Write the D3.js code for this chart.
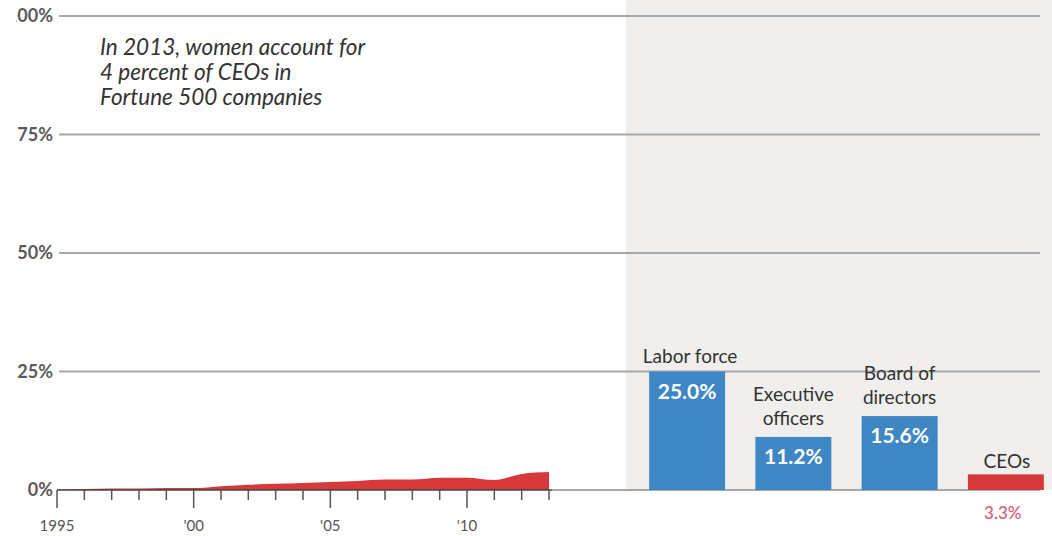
<!DOCTYPE html>
<html><head><meta charset="utf-8">
<script src="https://cdn.jsdelivr.net/npm/d3@7"></script>
<style>
html,body{margin:0;padding:0;background:#fff;}
svg{display:block;font-family:Lato,"Open Sans",sans-serif;}
</style></head>
<body>
<svg id="c" width="1052" height="536"></svg>
<script>
// ---- data ----
const years = [1995,1996,1997,1998,1999,2000,2001,2002,2003,2004,2005,2006,2007,2008,2009,2010,2011,2012,2013];
const ceoShare = [0.1,0.2,0.3,0.3,0.4,0.4,0.8,1.1,1.3,1.5,1.7,1.9,2.2,2.2,2.6,2.6,2.1,3.4,3.8];
const categories = ["Labor force","Executive officers","Board of directors","CEOs"];
const categoryLines = [["Labor force"],["Executive","officers"],["Board of","directors"],["CEOs"]];
const categoryValues = [25.0,11.2,15.6,3.3];
const yTicks = [0,25,50,75,100];
const yTickLabels = ["0%","25%","50%","75%","100%"];
const xMajorYears = [1995,2000,2005,2010];
const xMajorLabels = ["1995","'00","'05","'10"];
const note = ["In 2013, women account for","4 percent of CEOs in","Fortune 500 companies"];

const svg = d3.select("#c");
const y = d3.scaleLinear().domain([0,100]).range([490,16]);
const x = d3.scaleLinear().domain([1995,2013]).range([57,549]);
const xb = d3.scaleBand().domain(categories).range([634,1059]).paddingInner(0.285).paddingOuter(0.1425);

// crop of the left edge (the original image is cropped there)
svg.append("defs").append("clipPath").attr("id","crop")
  .append("rect").attr("x",16).attr("y",0).attr("width",1052).attr("height",536);

// gray panel
svg.append("rect").attr("x",626).attr("y",0).attr("width",1052-626).attr("height",y(0)).attr("fill","#f0efed");

// gridlines
svg.append("g").selectAll("line").data(yTicks.filter(d=>d>0)).join("line")
  .attr("x1",59).attr("x2",1040).attr("y1",d=>y(d)).attr("y2",d=>y(d))
  .attr("stroke","#a8a8a8").attr("stroke-width",1.8);

// y labels
svg.append("g").attr("clip-path","url(#crop)").selectAll("text").data(yTicks).join("text")
  .attr("x",53).attr("y",d=>y(d)+6).attr("text-anchor","end")
  .attr("font-size",18).attr("fill","#5a5a5a").attr("font-weight",700)
  .text((d,i)=>yTickLabels[i]);

// annotation
svg.append("text").attr("x",100).attr("y",55).attr("font-size",22.5).attr("font-style","italic").attr("fill","#333")
  .selectAll("tspan").data(note).join("tspan").attr("x",100).attr("dy",(d,i)=>i?25:0).text(d=>d);

// area
const area = d3.area().x((d,i)=>x(years[i])).y0(y(0)).y1(d=>y(d)).curve(d3.curveMonotoneX);
svg.append("path").datum(ceoShare).attr("d",area).attr("fill","#d9383a");

// baseline
svg.append("line").attr("x1",552).attr("x2",1040).attr("y1",y(0)).attr("y2",y(0)).attr("stroke","#a8a8a8").attr("stroke-width",1.8);
svg.append("line").attr("x1",x(1995)).attr("x2",552).attr("y1",y(0)).attr("y2",y(0)).attr("stroke","#444").attr("stroke-width",1.6);

// x axis ticks
svg.append("g").selectAll("line").data(years).join("line")
  .attr("x1",d=>x(d)).attr("x2",d=>x(d)).attr("y1",y(0))
  .attr("y2",d=>y(0)+(xMajorYears.includes(d)?18:10))
  .attr("stroke","#555").attr("stroke-width",1.5);
svg.append("g").selectAll("text").data(xMajorYears).join("text")
  .attr("x",d=>x(d)).attr("y",531).attr("text-anchor","middle").attr("font-size",15).attr("fill","#555")
  .text((d,i)=>xMajorLabels[i]);

// bars
const barColor = (d,i)=> i===3 ? "#d9383a" : "#3e86c4";
svg.append("g").selectAll("rect").data(categoryValues).join("rect")
  .attr("x",(d,i)=>xb(categories[i])).attr("width",xb.bandwidth())
  .attr("y",d=>y(d)).attr("height",d=>y(0)-y(d)).attr("fill",barColor);

// category labels (above bars)
const labelBase = [363,401,380,468];
const labelShift = [3,0,0,1];
categories.forEach((c,i)=>{
  const cx = xb(c)+xb.bandwidth()/2 + labelShift[i];
  const t = svg.append("text").attr("x",cx).attr("y",labelBase[i]).attr("text-anchor","middle")
    .attr("font-size",19).attr("fill","#333");
  categoryLines[i].forEach((l,j)=>t.append("tspan").attr("x",cx).attr("dy",j?24:0).text(l));
});

// value labels
categoryValues.forEach((v,i)=>{
  const cx = xb(categories[i])+xb.bandwidth()/2;
  if(i<3){
    svg.append("text").attr("x",cx).attr("y",y(v)+27).attr("text-anchor","middle")
      .attr("font-size",21).attr("font-weight",700).attr("fill","#fff").text(v.toFixed(1)+"%");
  } else {
    svg.append("text").attr("x",cx-3).attr("y",519).attr("text-anchor","middle")
      .attr("font-size",17).attr("font-weight",600).attr("fill","#d4687c").text(v.toFixed(1)+"%");
  }
});
</script>
</body></html>
